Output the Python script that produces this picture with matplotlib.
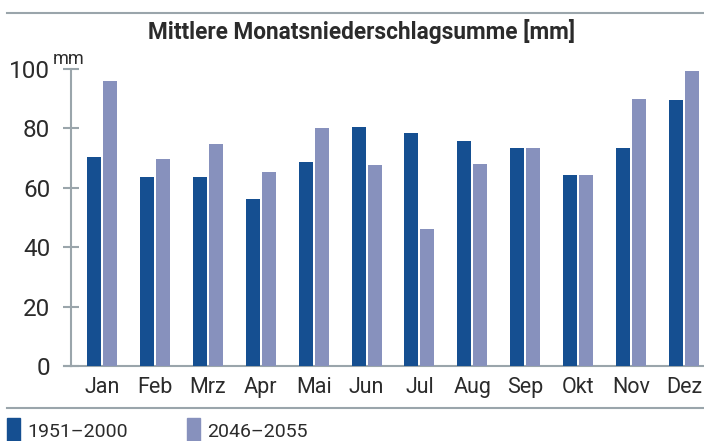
import numpy as np
import matplotlib
matplotlib.use("Agg")
import matplotlib.pyplot as plt
from matplotlib.lines import Line2D
from matplotlib.patches import Rectangle

months = ["Jan", "Feb", "Mrz", "Apr", "Mai", "Jun", "Jul", "Aug", "Sep", "Okt", "Nov", "Dez"]
past = [70.4, 63.6, 63.6, 56.2, 68.7, 80.5, 78.5, 75.8, 73.4, 64.3, 73.4, 89.6]
future = [96.0, 69.7, 74.7, 65.3, 80.1, 67.7, 46.1, 68.0, 73.4, 64.3, 89.9, 99.3]
yticks = [0, 20, 40, 60, 80, 100]
series_labels = ["1951–2000", "2046–2055"]

dark = "#154f91"
light = "#8791bd"
grey = "#9aa5ab"
txt = "#2b2b2b"

plt.rcParams['font.family'] = ['Roboto', 'DejaVu Sans']

W, H = 704, 441
fig = plt.figure(figsize=(W / 100, H / 100), dpi=100)

# axes in pixel units
x0, x1, ytop, ybot = 71, 704, 69, 366
ax = fig.add_axes([x0 / W, (H - ybot) / H, (x1 - x0) / W, (ybot - ytop) / H])

x = np.arange(len(months))
bw = 0.265
gap = 0.019
ax.bar(x - bw / 2 - gap, past, width=bw, color=dark, zorder=3)
ax.bar(x + bw / 2 + gap, future, width=bw, color=light, zorder=3)

ax.set_xlim(-0.586, 11.378)
ax.set_ylim(0, 100)

for s in ["top", "right"]:
    ax.spines[s].set_visible(False)
ax.spines["left"].set_color(grey)
ax.spines["bottom"].set_color(grey)
ax.spines["left"].set_linewidth(1.5)
ax.spines["bottom"].set_linewidth(1.5)

ax.set_yticks(yticks)
ax.set_yticklabels([str(v) for v in yticks])
ax.tick_params(axis="y", direction="inout", length=12, width=1.5, color=grey,
               labelsize=17.5, labelcolor=txt, pad=9)
ax.set_xticks(x)
ax.set_xticklabels(months)
ax.tick_params(axis="x", length=0, labelsize=15.5, labelcolor=txt, pad=8)

# extend baseline a bit left like the reference
ax.plot([-0.586 - 7 / 52.9, -0.586], [0, 0], color=grey, lw=1.5, clip_on=False)

# "mm" unit label
fig.text(53 / W, 1 - 59 / H, "mm", fontsize=13, color=txt, ha="left", va="center")

# title + rules
fig.text(362 / W, 1 - 32 / H, "Mittlere Monatsniederschlagsumme [mm]", fontsize=16.3,
         fontweight="bold", color=txt, ha="center", va="center")
fig.add_artist(Line2D([7 / W, 1], [1 - 13 / H] * 2, color=grey, lw=1.5))
fig.add_artist(Line2D([7 / W, 1], [1 - 408 / H] * 2, color=grey, lw=1.5))

# legend
for lx, col, lab in [(7, dark, series_labels[0]), (187, light, series_labels[1])]:
    fig.add_artist(Rectangle((lx / W, 0), 13 / W, 23 / H, color=col, transform=fig.transFigure))
    fig.text((lx + 20) / W, 1 - 432 / H, lab, fontsize=14, color=txt, ha="left", va="center")

fig.savefig("out.png", dpi=100)
